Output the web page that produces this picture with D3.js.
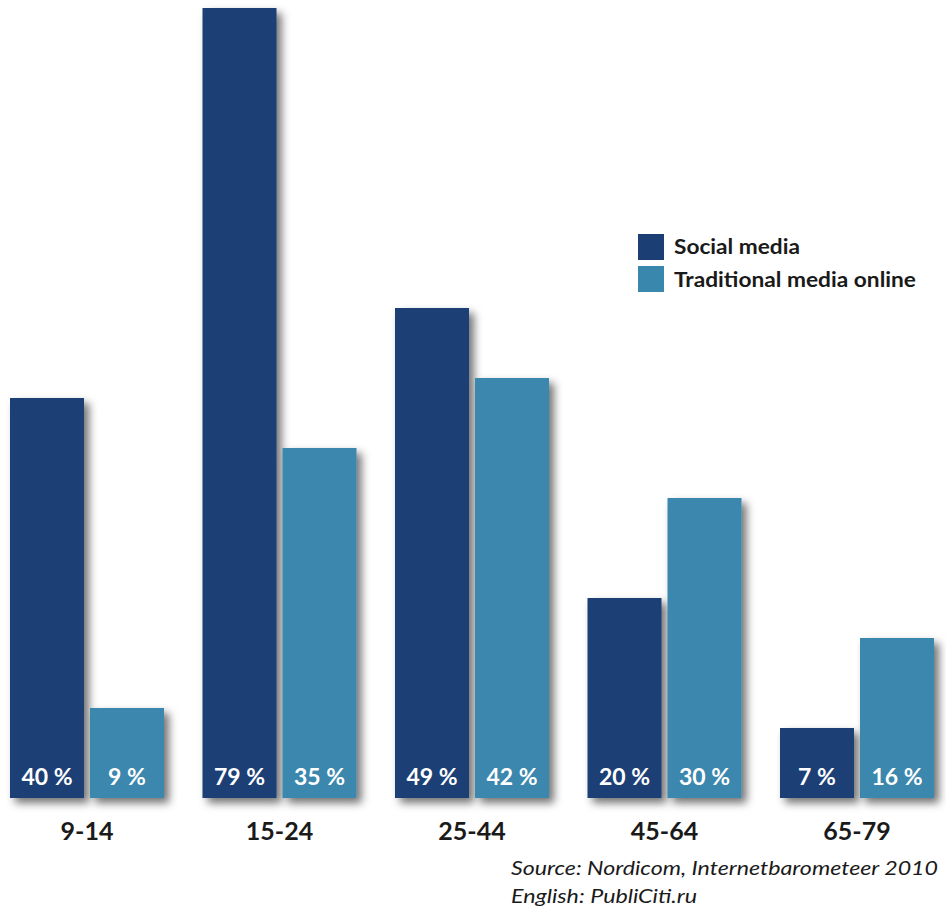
<!DOCTYPE html>
<html>
<head>
<meta charset="utf-8">
<script src="https://cdn.jsdelivr.net/npm/d3@7"></script>
<style>
  body { margin: 0; background: #fff; }
  svg { display: block; font-family: Lato, "Open Sans", sans-serif; }
</style>
</head>
<body>
<svg width="946" height="908"></svg>
<script>
const ageGroups = ['9-14', '15-24', '25-44', '45-64', '65-79'];
const seriesNames = ['Social media', 'Traditional media online'];
const socialMedia = [40, 79, 49, 20, 7];
const traditionalOnline = [9, 35, 42, 30, 16];
const sourceLines = ['Source: Nordicom, Internetbarometeer 2010', 'English: PubliCiti.ru'];

const colors = ['#1b3f74', '#3a87ad'];

const svg = d3.select('svg');

const defs = svg.append('defs');
const f = defs.append('filter').attr('id', 'shadow')
    .attr('x', '-20%').attr('y', '-20%').attr('width', '150%').attr('height', '150%');
f.append('feDropShadow')
    .attr('dx', 5).attr('dy', 5).attr('stdDeviation', 4)
    .attr('flood-color', '#000').attr('flood-opacity', 0.55);

const x0 = d3.scaleBand().domain(ageGroups).range([10, 934]).paddingInner(0.2).paddingOuter(0);
const x1 = d3.scaleBand().domain([0, 1]).range([0, x0.bandwidth()]).paddingInner(0.075);
const y = d3.scaleLinear().domain([0, 79]).range([798, 8]);

const rows = ageGroups.map((g, i) => ({ group: g, vals: [socialMedia[i], traditionalOnline[i]] }));

const groups = svg.selectAll('g.grp')
    .data(rows)
    .enter().append('g')
    .attr('class', 'grp')
    .attr('transform', d => 'translate(' + x0(d.group) + ',0)');

groups.selectAll('rect')
    .data(d => d.vals.map((v, k) => ({ v, k })))
    .enter().append('rect')
    .attr('x', d => x1(d.k))
    .attr('y', d => y(d.v))
    .attr('width', x1.bandwidth())
    .attr('height', d => y(0) - y(d.v))
    .attr('fill', d => colors[d.k])
    .attr('filter', 'url(#shadow)');

groups.selectAll('text.val')
    .data(d => d.vals.map((v, k) => ({ v, k })))
    .enter().append('text')
    .attr('class', 'val')
    .attr('x', d => x1(d.k) + x1.bandwidth() / 2)
    .attr('y', 785)
    .attr('text-anchor', 'middle')
    .attr('fill', '#fff')
    .attr('font-size', 23)
    .attr('font-weight', 'bold')
    .text(d => d.v + ' %');

// category axis labels
const xAxis = svg.append('g')
    .attr('transform', 'translate(0,' + y(0) + ')')
    .call(d3.axisBottom(x0).tickSize(0));
xAxis.select('.domain').remove();
xAxis.selectAll('text')
    .attr('y', 42)
    .attr('dy', null)
    .attr('font-family', 'Lato, "Open Sans", sans-serif')
    .attr('font-size', 25)
    .attr('font-weight', 'bold')
    .attr('fill', '#1a1a1a');

// legend
const legend = svg.append('g').attr('transform', 'translate(638,234)');
const legendWidths = [126, 242];
seriesNames.forEach((name, i) => {
    legend.append('rect')
        .attr('x', 0).attr('y', i * 32)
        .attr('width', 26).attr('height', 26)
        .attr('fill', colors[i]);
    legend.append('text')
        .attr('x', 36).attr('y', i * 33 + 20)
        .attr('font-size', 20)
        .attr('font-weight', 'bold')
        .attr('fill', '#1a1a1a')
        .attr('textLength', legendWidths[i])
        .attr('lengthAdjust', 'spacingAndGlyphs')
        .text(name);
});

// source
const sourceWidths = [427, 186];
sourceLines.forEach((s, i) => {
    svg.append('text')
        .attr('x', 511).attr('y', 875 + i * 28)
        .attr('font-size', 20)
        .attr('font-style', 'italic')
        .attr('fill', '#1a1a1a')
        .attr('textLength', sourceWidths[i])
        .attr('lengthAdjust', 'spacingAndGlyphs')
        .text(s);
});
</script>
</body>
</html>
